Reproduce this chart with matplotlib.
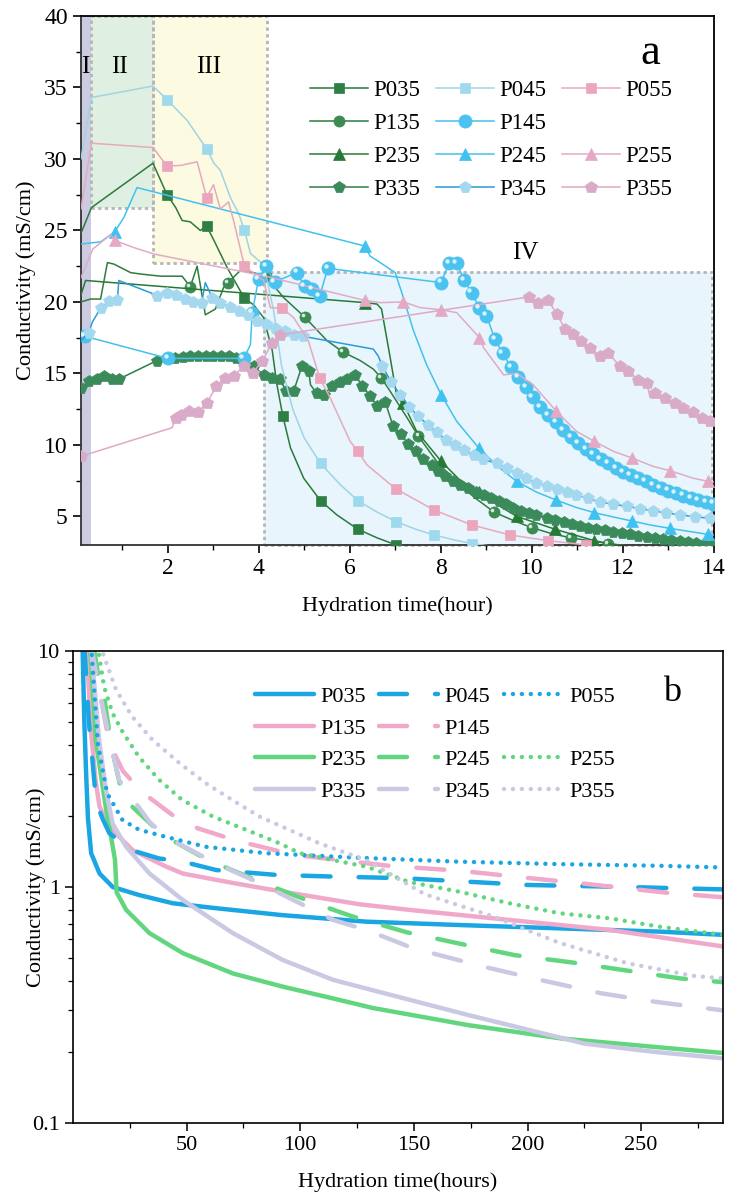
import matplotlib
matplotlib.use("Agg")
import matplotlib.pyplot as plt
import matplotlib.transforms as mtransforms
from matplotlib.lines import Line2D
from matplotlib.patches import Rectangle
from matplotlib.ticker import MultipleLocator, FixedLocator, NullFormatter

plt.rcParams['font.family'] = ['Liberation Serif', 'DejaVu Serif']

# ---------------- panel a: first 14 h ----------------
p035_x = [0.1, 0.33, 1.68, 1.99, 2.18, 2.32, 2.5, 2.72, 2.86, 3.02, 3.31, 3.69, 3.89, 4.11, 4.3, 4.4,
          4.53, 4.7, 4.99, 5.36, 5.72, 6.18, 6.6, 7.02]
p035_y = [24.8, 26.6, 29.7, 27.5, 26.6, 25.7, 25.6, 25.0, 25.3, 24.3, 22.4, 20.25, 19.8, 18.9, 16.6, 14.25,
          12.05, 9.8, 7.67, 6.1, 5.1, 4.1, 3.5, 3.0]
p035_marks = [3, 8, 11, 16, 19, 21, 23]

p135_x = [0.1, 0.31, 0.53, 0.68, 0.82, 1.19, 1.41, 1.85, 2.32, 2.43, 2.5, 2.65, 2.83, 3.05, 3.23, 3.33,
          3.6, 3.89, 4.16, 4.55, 5.01, 5.5, 5.85, 6.23, 6.52, 6.69, 6.89, 7.26, 7.51, 7.91, 8.34, 8.75,
          9.17, 9.6, 10.01, 10.43, 10.85, 11.26, 11.68, 12.2]
p135_y = [20.0, 20.2, 20.2, 22.75, 22.65, 22.05, 21.95, 21.8, 21.8, 21.35, 21.05, 22.5, 19.1, 19.5, 21.0,
          21.35, 22.2, 22.05, 21.8, 20.3, 18.95, 17.3, 16.5, 15.9, 15.3, 14.7, 13.75, 11.9, 10.6, 8.85,
          7.4, 6.3, 5.3, 4.7, 4.2, 3.8, 3.5, 3.3, 3.1, 2.9]
p135_marks = [10, 15, 18, 20, 22, 25, 28, 32, 34, 36, 38]

p235_x = [0.1, 0.2, 6.34, 6.6, 6.7, 6.89, 7.04, 7.18, 7.47, 8.01, 8.4, 8.85, 9.25, 9.67, 10.51, 11.37, 12.0]
p235_y = [20.5, 21.5, 19.95, 19.85, 19.5, 16.1, 13.3, 12.9, 10.95, 8.85, 7.6, 6.7, 5.8, 5.0, 4.1, 3.3, 2.9]
p235_marks = [2, 7, 9, 11, 13, 14, 15]

p335_x = [0.1, 0.27, 0.46, 0.6, 0.79, 0.93, 1.77, 1.99, 2.16, 2.33, 2.5, 2.67, 2.84, 3.0, 3.17, 3.34,
          3.5, 3.67, 3.89, 4.11, 4.3, 4.46, 4.61, 4.77, 4.95, 5.1, 5.14, 5.28, 5.44, 5.61, 5.78, 5.94,
          6.11, 6.28, 6.45, 6.61, 6.78, 6.95, 7.12, 7.29, 7.46, 7.62, 7.8, 7.95, 8.1, 8.27, 8.43, 8.6,
          8.77, 8.94, 9.1, 9.27, 9.43, 9.59, 9.76, 9.93, 10.1, 10.33, 10.5, 10.7, 10.88, 11.06, 11.24,
          11.42, 11.6, 11.79, 11.97, 12.15, 12.33, 12.52, 12.7, 12.88, 13.06, 13.25, 13.43, 13.61,
          13.79, 13.98]
p335_y = [14.0, 14.45, 14.6, 14.85, 14.6, 14.6, 15.9, 16.05, 16.1, 16.15, 16.2, 16.2, 16.2, 16.25, 16.2,
          16.2, 16.1, 15.9, 15.5, 14.9, 14.7, 14.6, 13.75, 13.75, 15.5, 15.2, 14.2, 13.6, 13.5, 14.15,
          14.4, 14.6, 14.9, 14.15, 13.4, 12.7, 13.0, 11.35, 10.75, 10.05, 9.55, 9.0, 8.6, 8.15, 7.85,
          7.5, 7.2, 6.95, 6.7, 6.5, 6.25, 6.05, 5.85, 5.6, 5.4, 5.25, 5.1, 4.86, 4.75, 4.6, 4.47, 4.35,
          4.22, 4.12, 4.02, 3.93, 3.84, 3.75, 3.66, 3.58, 3.5, 3.43, 3.35, 3.28, 3.21, 3.16, 3.1, 3.05]
p335_marks = [i for i in range(len(p335_x)) if i != 26]

p045_x = [0.1, 0.33, 1.68, 1.99, 2.43, 2.86, 3.02, 3.16, 3.38, 3.56, 3.69, 3.82, 4.11, 4.33, 4.5, 4.75,
          5.0, 5.36, 5.8, 6.18, 6.6, 7.02, 7.45, 7.85, 8.3, 8.68, 9.4]
p045_y = [30.0, 34.3, 35.1, 34.15, 32.7, 30.7, 29.7, 29.2, 27.3, 26.2, 25.0, 23.4, 22.6, 19.4, 15.6, 12.5,
          10.5, 8.7, 7.2, 6.1, 5.3, 4.63, 4.1, 3.7, 3.35, 3.1, 2.8]
p045_marks = [3, 5, 10, 17, 19, 21, 23, 25]

p145_x = [0.18, 2.01, 3.67, 3.82, 3.86, 4.0, 4.16, 4.35, 4.84, 5.01, 5.17, 5.34, 5.52, 8.01, 8.18, 8.35,
          8.52, 8.68, 8.85, 9.0, 9.19, 9.36, 9.54, 9.7, 9.87, 10.02, 10.19, 10.36, 10.53, 10.69, 10.86,
          11.02, 11.19, 11.35, 11.51, 11.68, 11.85, 12.0, 12.17, 12.34, 12.5, 12.66, 12.83, 13.0, 13.16,
          13.32, 13.49, 13.65, 13.83, 13.98]
p145_y = [17.6, 16.05, 16.05, 17.0, 19.25, 21.6, 22.5, 21.4, 22.05, 21.1, 20.9, 20.4, 22.35, 21.35, 22.7,
          22.7, 21.5, 20.65, 19.55, 19.05, 17.4, 16.4, 15.45, 14.75, 14.05, 13.35, 12.65, 12.1, 11.6,
          11.05, 10.55, 10.1, 9.7, 9.35, 9.0, 8.7, 8.4, 8.1, 7.9, 7.67, 7.45, 7.2, 7.0, 6.8, 6.6, 6.45,
          6.27, 6.15, 6.0, 5.9]
p145_marks = [i for i in range(len(p145_x)) if i != 3]

p245_x = [0.1, 0.53, 0.84, 1.04, 1.33, 6.34, 6.45, 6.6, 7.0, 7.18, 7.4, 7.69, 8.01, 8.35, 8.83, 9.25,
          9.67, 10.1, 10.53, 10.95, 11.37, 11.8, 12.19, 12.6, 13.03, 13.45, 13.87, 14.0]
p245_y = [24.05, 24.2, 24.9, 25.9, 28.0, 23.9, 23.2, 22.9, 22.05, 20.3, 18.0, 15.6, 13.5, 11.65, 9.8,
          8.5, 7.44, 6.7, 6.15, 5.65, 5.26, 4.95, 4.68, 4.4, 4.16, 3.95, 3.74, 3.7]
p245_marks = [2, 5, 12, 14, 16, 18, 20, 22, 24, 26]

p345_x = [0.1, 0.27, 0.35, 0.53, 0.71, 0.9, 0.93, 1.7, 1.77, 1.99, 2.18, 2.38, 2.56, 2.75, 2.83, 2.98,
          3.16, 3.37, 3.56, 3.76, 3.97, 4.17, 4.37, 4.57, 4.77, 4.98, 5.14, 6.52, 6.63, 6.72, 6.91, 7.11,
          7.31, 7.51, 7.72, 7.91, 8.12, 8.32, 8.52, 8.72, 8.92, 9.23, 9.45, 9.67, 9.88, 10.1, 10.33,
          10.55, 10.77, 10.98, 11.24, 11.5, 11.79, 12.08, 12.37, 12.66, 12.95, 13.25, 13.58, 13.91]
p345_y = [17.3, 17.85, 18.6, 19.55, 20.05, 20.1, 21.5, 20.55, 20.4, 20.65, 20.45, 20.2, 20.0, 19.95,
          21.35, 20.3, 19.95, 19.65, 19.35, 19.1, 18.7, 18.45, 18.15, 17.95, 17.7, 17.6, 17.5, 16.7,
          16.2, 15.5, 14.4, 13.5, 12.65, 12.0, 11.4, 10.9, 10.35, 10.0, 9.65, 9.3, 9.0, 8.7, 8.35, 8.0,
          7.65, 7.35, 7.1, 6.9, 6.7, 6.5, 6.25, 6.0, 5.85, 5.7, 5.55, 5.38, 5.25, 5.1, 4.98, 4.86]
p345_marks = [i for i in range(len(p345_x)) if i not in (0, 2, 6, 7, 14, 26, 27, 28)]

p055_x = [0.1, 0.33, 1.68, 1.99, 2.29, 2.65, 2.86, 3.01, 3.16, 3.34, 3.45, 3.69, 4.11, 4.26, 4.52, 4.77,
          5.09, 5.34, 5.57, 6.01, 6.18, 6.38, 7.01, 7.85, 8.68, 9.52, 10.36, 11.2]
p055_y = [26.5, 31.1, 30.8, 29.5, 29.55, 29.8, 27.3, 28.2, 26.5, 27.0, 25.7, 22.5, 21.5, 19.6, 19.55,
          18.9, 17.3, 14.7, 13.3, 10.25, 9.55, 8.6, 6.93, 5.45, 4.4, 3.7, 3.3, 3.0]
p055_marks = [3, 6, 11, 14, 17, 20, 22, 23, 24, 25, 26, 27]

p255_x = [0.1, 0.36, 0.75, 0.84, 1.26, 1.7, 4.15, 6.34, 6.67, 7.18, 7.55, 8.01, 8.35, 8.68, 8.85, 8.94,
          9.38, 9.67, 10.03, 10.54, 10.98, 11.37, 11.79, 12.21, 12.66, 13.03, 13.54, 13.87, 14.0]
p255_y = [21.7, 23.7, 24.7, 24.3, 23.8, 23.35, 21.8, 20.1, 19.95, 20.0, 19.6, 19.45, 19.25, 18.1, 17.5,
          16.8, 14.9, 15.0, 14.2, 12.35, 10.95, 10.25, 9.55, 9.07, 8.5, 8.2, 7.67, 7.45, 7.4]
p255_marks = [3, 7, 9, 11, 14, 19, 21, 23, 25, 27]

p355_x = [0.1, 2.1, 2.18, 2.29, 2.47, 2.67, 2.87, 3.07, 3.26, 3.45, 3.67, 3.87, 4.08, 4.3, 4.48, 9.94,
          10.14, 10.36, 10.55, 10.73, 10.91, 11.09, 11.28, 11.5, 11.68, 11.93, 12.12, 12.34, 12.52,
          12.6, 12.7, 12.92, 13.14, 13.32, 13.54, 13.73, 13.91]
p355_y = [9.2, 11.2, 11.9, 12.1, 12.35, 12.3, 12.95, 14.1, 14.7, 14.8, 15.5, 15.05, 15.85, 17.15, 17.7,
          20.35, 19.95, 20.1, 19.15, 18.1, 17.75, 17.25, 16.8, 16.2, 16.45, 15.5, 15.15, 14.55, 14.35,
          13.3, 13.65, 13.3, 12.95, 12.6, 12.3, 11.9, 11.7]
p355_marks = [i for i in range(len(p355_x)) if i not in (1, 29)]

# hydration stages: (x0, x1, y0, y1)
stage_names = ['I', 'II', 'III', 'IV']
stage_spans = [(0.1, 0.33, 3.0, 40.0), (0.33, 1.68, 26.6, 40.0), (1.68, 4.19, 22.75, 40.0),
               (4.11, 13.95, 3.0, 22.1)]

# ---------------- panel b: up to ~290 h (log scale) ----------------
b035_x = [4.2, 5.0, 5.8, 6.6, 8.0, 11.7, 17.5, 29, 44, 63, 92, 129, 170, 214, 258, 286]
b035_y = [10.5, 5.0, 3.0, 1.95, 1.39, 1.14, 1.0, 0.925, 0.853, 0.813, 0.76, 0.713, 0.69, 0.668, 0.647, 0.627]
b135_x = [6, 8, 10, 11.7, 16, 26.3, 41, 48.4, 70.4, 92.4, 126, 148, 192, 236, 286]
b135_y = [10.5, 4.5, 2.8, 2.19, 1.8, 1.43, 1.22, 1.14, 1.04, 0.955, 0.845, 0.80, 0.725, 0.658, 0.56]
b235_x = [7.5, 10, 14.4, 16, 17.4, 18.5, 19.2, 23.4, 33.7, 48.4, 70.4, 92.4, 114.5, 132, 173.7, 215, 256, 286]
b235_y = [10.5, 4.2, 2.19, 1.8, 1.5, 1.3, 0.95, 0.80, 0.637, 0.524, 0.43, 0.378, 0.337, 0.307, 0.26, 0.228, 0.21, 0.198]
b335_x = [7.9, 11.5, 14.5, 17.4, 23.4, 33.7, 48.4, 70.4, 92.4, 114.5, 132, 173.7, 200.5, 225, 256, 286]
b335_y = [10.5, 4.2, 2.58, 1.86, 1.48, 1.14, 0.88, 0.637, 0.49, 0.404, 0.365, 0.287, 0.248, 0.217, 0.2, 0.188]

b045_x = [5, 7, 8.5, 10.2, 13, 16, 26, 38, 47, 63, 89.5, 114.5, 145, 200, 244, 286]
b045_y = [10.5, 5.0, 3.5, 2.3, 1.95, 1.69, 1.43, 1.32, 1.29, 1.18, 1.125, 1.107, 1.09, 1.02, 1.0, 0.977]
b145_x = [9, 12, 16, 22, 30, 49, 72, 97, 139, 171, 197, 222, 262, 286]
b145_y = [10.5, 6.5, 4.06, 3.1, 2.54, 1.85, 1.57, 1.37, 1.23, 1.17, 1.10, 1.04, 0.944, 0.905]
b245_x = [9, 11, 13.7, 17, 22, 39.5, 59.4, 83.6, 106.4, 123, 146.8, 171, 194.5, 219.5, 242, 267, 286]
b245_y = [10.5, 8.0, 6.4, 3.9, 2.38, 1.66, 1.30, 1.04, 0.853, 0.75, 0.643, 0.573, 0.514, 0.479, 0.445, 0.41, 0.395]
b345_x = [8, 12, 16, 20.3, 33.6, 40.9, 62.9, 82, 114.5, 129, 149.7, 180.5, 205.5, 232, 255.4, 286]
b345_y = [10.5, 6.5, 4.3, 2.84, 1.89, 1.63, 1.26, 1.04, 0.725, 0.658, 0.55, 0.46, 0.404, 0.355, 0.327, 0.30]

b055_x = [8, 11, 15, 21.8, 29, 41, 58.5, 85, 126, 170, 214, 258, 286]
b055_y = [10.5, 4.0, 2.5, 1.92, 1.75, 1.63, 1.48, 1.39, 1.33, 1.28, 1.25, 1.23, 1.21]
b255_x = [10.8, 13.7, 17.4, 21.8, 29, 38, 48, 61.5, 76, 91, 99.8, 114.5, 129, 148, 170, 192, 214, 236, 258, 286]
b255_y = [10.5, 7.06, 5.45, 4.55, 3.56, 2.84, 2.34, 1.99, 1.75, 1.53, 1.39, 1.30, 1.22, 1.05, 0.955, 0.853,
          0.774, 0.737, 0.679, 0.627]
b355_x = [12, 19, 26, 35, 47, 58.5, 70, 82, 95, 108.5, 129, 155, 185, 214, 244, 273, 286]
b355_y = [10.5, 6.84, 5.28, 4.2, 3.34, 2.75, 2.34, 1.99, 1.75, 1.53, 1.3, 0.93, 0.75, 0.58, 0.475, 0.42, 0.41]

fig = plt.figure(figsize=(7.29, 11.93), dpi=100)
ax = fig.add_axes([0.1111, 0.5432, 0.8683, 0.4434])
bx = fig.add_axes([0.1001, 0.0587, 0.8916, 0.3956])

# ---- stage boxes
stage_fill = ['#cbcbe2', '#dff0e3', '#fcfae1', '#e8f5fc']
for (x0, x1, y0, y1), fc, name in zip(stage_spans, stage_fill, stage_names):
    ax.add_patch(Rectangle((x0, y0), x1 - x0, y1 - y0, facecolor=fc, edgecolor='none', zorder=0))
    if name != 'I':
        ax.add_patch(Rectangle((x0, y0), x1 - x0, y1 - y0, facecolor='none', edgecolor='#b6b6b6',
                               lw=2.0, linestyle=(0, (1.2, 1.2)), zorder=1, clip_on=False))

ax.text(0.2, 36.4, 'I', fontsize=18, ha='center', va='center')
ax.text(0.95, 36.4, 'II', fontsize=18, ha='center', va='center')
ax.text(2.9, 36.4, 'III', fontsize=18, ha='center', va='center')
ax.text(9.85, 23.45, 'IV', fontsize=18, ha='center', va='center')
ax.text(12.59, 37.4, 'a', fontsize=32, ha='center', va='center')


def draw(x, y, marks, lc, mc, marker, ms, label, shine=False, lw=1.1, ls='-'):
    ax.plot(x, y, color=lc, lw=lw, ls=ls, marker=marker, markevery=marks, ms=ms,
            mfc=mc, mec=mc, mew=0.5, zorder=3, label=label)
    if shine:
        # small highlight on the spheres
        hl = mtransforms.offset_copy(ax.transData, fig=fig, x=-ms * 0.17, y=ms * 0.17, units='points')
        ax.plot([x[i] for i in marks], [y[i] for i in marks], 'o', ms=ms * 0.33,
                color='white', alpha=0.8, mew=0, transform=hl, zorder=4)


draw(p035_x, p035_y, p035_marks, '#2b7a3b', '#2f7f45', 's', 7.5, 'P035')
draw(p135_x, p135_y, p135_marks, '#2e7d3e', '#3b8b52', 'o', 8, 'P135', shine=True)
draw(p235_x, p235_y, p235_marks, '#267a35', '#267a35', '^', 8, 'P235')
draw(p335_x, p335_y, p335_marks, '#2e7d45', '#3a8a5a', 'p', 8.5, 'P335')
draw(p045_x, p045_y, p045_marks, '#9fd4e4', '#9ed9ee', 's', 7.5, 'P045')
draw(p145_x, p145_y, p145_marks, '#45c0ee', '#4ac3f0', 'o', 9.5, 'P145', shine=True)
draw(p245_x, p245_y, p245_marks, '#40c2f0', '#40c2f0', '^', 8, 'P245')
draw(p345_x, p345_y, p345_marks, '#2a9bd8', '#a3d8ef', 'p', 8.5, 'P345')
draw(p055_x, p055_y, p055_marks, '#e7a9bd', '#eba6bd', 's', 7.5, 'P055')
draw(p255_x, p255_y, p255_marks, '#deacc7', '#e4a9c4', '^', 8, 'P255')
draw(p355_x, p355_y, p355_marks, '#e0a8c6', '#d9abc9', 'p', 9, 'P355')

ax.set_xlim(0.1, 14)
ax.set_ylim(3, 40)
ax.xaxis.set_major_locator(FixedLocator([2, 4, 6, 8, 10, 12, 14]))
ax.xaxis.set_minor_locator(FixedLocator([1, 3, 5, 7, 9, 11, 13]))
ax.yaxis.set_major_locator(MultipleLocator(5))
ax.yaxis.set_minor_locator(MultipleLocator(2.5))
ax.set_yticks([5, 10, 15, 20, 25, 30, 35, 40])
ax.tick_params(which='both', direction='out', labelsize=17, top=False, right=False)
ax.tick_params(which='major', length=6, width=1.2)
ax.tick_params(which='minor', length=3.5, width=1.0)
ax.set_xlabel('Hydration time(hour)', fontsize=16, labelpad=12)
ax.set_ylabel('Conductivity (mS/cm)', fontsize=16, labelpad=6)
for s in ax.spines.values():
    s.set_linewidth(1.3)
ax.spines['left'].set_color('#333333')
ax.spines['bottom'].set_color('#333333')

handles, labels = ax.get_legend_handles_labels()
blank = Line2D([], [], linestyle='none')
order = ['P035', 'P135', 'P235', 'P335', 'P045', 'P145', 'P245', 'P345', 'P055', None, 'P255', 'P355']
leg_h = [handles[labels.index(k)] if k else blank for k in order]
leg_l = [k if k else '' for k in order]
ax.legend(leg_h, leg_l, ncol=3, loc='upper left', bbox_to_anchor=(0.348, 0.897), frameon=False,
          fontsize=16.5, handlelength=2.5, handletextpad=0.25, columnspacing=0.7, labelspacing=0.52,
          borderaxespad=0, numpoints=1)

# ---------------- panel b ----------------
blue, pink, green, lav = '#1aa6e2', '#f0a9ca', '#62d67e', '#c9c9e3'
solid = '-'
dashed = (0, (6.3, 6.3))
dotted = (0, (0.01, 2.0))
bw = 3.2
series_b = [
    (b035_x, b035_y, blue, solid, 'P035'), (b135_x, b135_y, pink, solid, 'P135'),
    (b235_x, b235_y, green, solid, 'P235'), (b335_x, b335_y, lav, solid, 'P335'),
    (b045_x, b045_y, blue, dashed, 'P045'), (b145_x, b145_y, pink, dashed, 'P145'),
    (b245_x, b245_y, green, dashed, 'P245'), (b345_x, b345_y, lav, dashed, 'P345'),
    (b055_x, b055_y, blue, dotted, 'P055'), (b255_x, b255_y, green, dotted, 'P255'),
    (b355_x, b355_y, lav, dotted, 'P355'),
]
b_lines = {}
for x, y, c, ls, lab in series_b:
    ln, = bx.plot(x, y, color=c, lw=bw, linestyle=ls, dash_capstyle='round',
                  solid_capstyle='round', label=lab)
    b_lines[lab] = ln

bx.set_yscale('log')
bx.set_xlim(0, 286)
bx.set_ylim(0.1, 10)
bx.yaxis.set_major_locator(FixedLocator([0.1, 1, 10]))
bx.set_yticklabels(['0.1', '1', '10'])
bx.yaxis.set_minor_formatter(NullFormatter())
bx.xaxis.set_major_locator(FixedLocator([50, 100, 150, 200, 250]))
bx.xaxis.set_minor_locator(FixedLocator([25, 75, 125, 175, 225, 275]))
bx.tick_params(which='both', direction='out', labelsize=16, top=False, right=False)
bx.tick_params(which='major', length=6, width=1.1)
bx.tick_params(which='minor', length=3.5, width=0.9)
bx.set_xlabel('Hydration time(hours)', fontsize=16, labelpad=12)
bx.set_ylabel('Conductivity (mS/cm)', fontsize=16, labelpad=-10)
for s in bx.spines.values():
    s.set_linewidth(1.2)

leg_b = [b_lines[k] if k else blank for k in order]
bx.legend(leg_b, leg_l, ncol=3, loc='upper left', bbox_to_anchor=(0.266, 0.944), frameon=False,
          fontsize=16, handlelength=2.65, handletextpad=0.3, columnspacing=0.6, labelspacing=0.5,
          borderaxespad=0)
bx.text(0.9215, 0.913, 'b', transform=bx.transAxes, fontsize=26, ha='center', va='center')

fig.savefig('out.png', dpi=100)
